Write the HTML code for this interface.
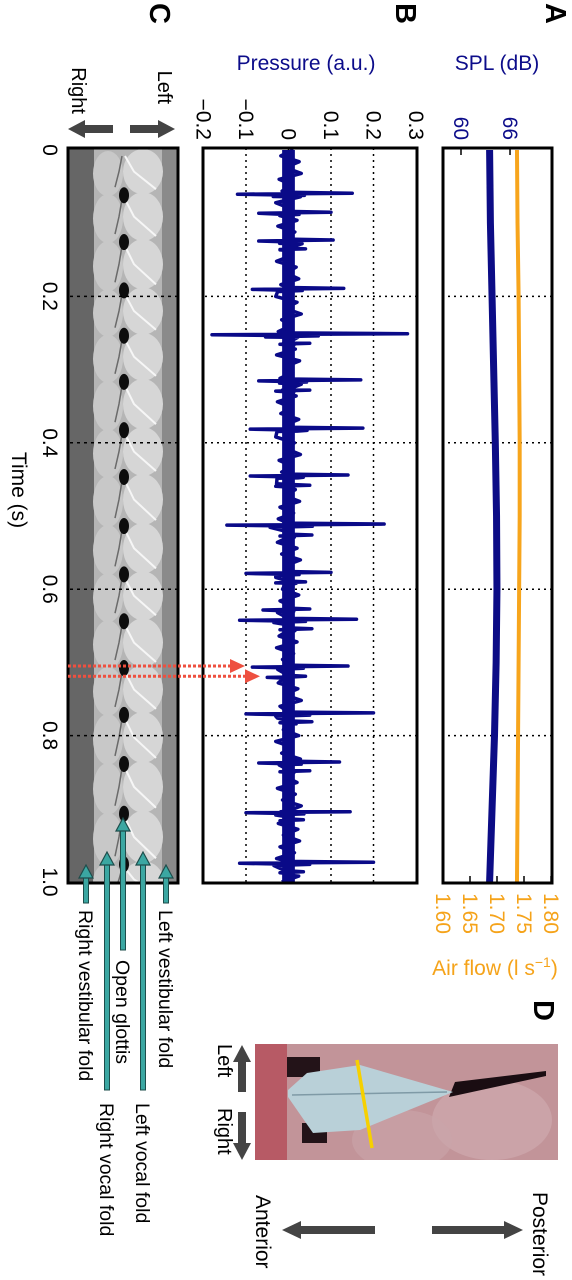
<!DOCTYPE html>
<html><head><meta charset="utf-8">
<style>
html,body{margin:0;padding:0;background:#fff;}
body{width:572px;height:1280px;overflow:hidden;position:relative;}
#rot{position:absolute;left:0;top:0;width:1280px;height:572px;transform-origin:0 0;transform:translate(572px,0) rotate(90deg);}
svg text{font-family:"Liberation Sans",Arial,sans-serif;}
</style></head>
<body>
<div id="rot">
<svg id="fig" width="1280" height="572" viewBox="0 0 1280 572" xmlns="http://www.w3.org/2000/svg">
<defs>
<clipPath id="clipA"><rect x="148" y="20" width="735" height="109"/></clipPath>
<clipPath id="clipB"><rect x="148" y="155" width="735" height="214"/></clipPath>
<clipPath id="clipC"><rect x="148" y="394" width="735" height="110"/></clipPath>
<clipPath id="clipD"><rect x="1044" y="14" width="116" height="303"/></clipPath>
</defs>

<text x="3" y="26" font-size="29" font-weight="bold">A</text>
<text x="3" y="176" font-size="29" font-weight="bold">B</text>
<text x="3" y="422" font-size="29" font-weight="bold">C</text>
<text x="1000" y="38" font-size="29" font-weight="bold">D</text>

<text transform="translate(70,75) rotate(-90)" text-anchor="middle" font-size="21" fill="#0c0c8a">SPL (dB)</text>
<text transform="translate(70,266) rotate(-90)" text-anchor="middle" font-size="21" fill="#0c0c8a">Pressure (a.u.)</text>
<text transform="translate(975,77) rotate(-90)" text-anchor="middle" font-size="21" fill="#f5a31a">Air flow (l s<tspan baseline-shift="super" font-size="14">−1</tspan>)</text>
<text x="490" y="560" text-anchor="middle" font-size="21">Time (s)</text>

<g id="gA"></g>
<g id="gB"></g>
<g id="gC"></g>

<g fill="#444">
<rect x="125" y="413" width="8" height="29"/>
<polygon points="129,397 120,414 138,414"/>
<rect x="125" y="459" width="8" height="29"/>
<polygon points="129,504 120,487 138,487"/>
</g>
<text x="104" y="414" text-anchor="end" font-size="20">Left</text>
<text x="114" y="500" text-anchor="end" font-size="20">Right</text>

<g id="teal"></g>

<g clip-path="url(#clipD)">
<rect x="1044" y="14" width="116" height="303" fill="#c29499"/>
<ellipse cx="1120" cy="80" rx="40" ry="60" fill="#d0aeb2" opacity="0.6"/>
<ellipse cx="1140" cy="170" rx="30" ry="50" fill="#caa5aa" opacity="0.6"/>
<rect x="1044" y="285" width="116" height="32" fill="#b03a4a" opacity="0.65"/>
<polygon points="1071,26 1082,117 1097,123 1076,26" fill="#1a0d12"/>
<polygon points="1057,252 1077,252 1077,285 1057,285" fill="#231318"/>
<polygon points="1123,245 1143,245 1143,270 1123,270" fill="#231318"/>
<polygon points="1090,284 1073,265 1065,212 1092,119 1130,212 1133,259 1097,284" fill="#b9d0d8"/>
<line x1="1092" y1="125" x2="1095" y2="280" stroke="#7f9aa6" stroke-width="1.5"/>
<line x1="1060" y1="215" x2="1148" y2="200" stroke="#f6d000" stroke-width="3.5"/>
</g>
<g fill="#444">
<rect x="1058" y="326" width="34" height="8"/>
<polygon points="1045,330 1062,321 1062,339"/>
<rect x="1112" y="326" width="34" height="8"/>
<polygon points="1160,330 1143,321 1143,339"/>
<rect x="1226" y="63" width="8" height="77"/>
<polygon points="1230,49 1221,68 1239,68"/>
<rect x="1226" y="197" width="8" height="77"/>
<polygon points="1230,290 1221,271 1239,271"/>
</g>
<text x="1044" y="354" font-size="20">Left</text>
<text x="1108" y="354" font-size="20">Right</text>
<text x="1192" y="39" font-size="21">Posterior</text>
<text x="1195" y="316" font-size="21">Anterior</text>
</svg>
</div>

<script>
var ticksTime = [0, 0.2, 0.4, 0.6, 0.8, 1.0];
var tickLabelsTime = ["0", "0.2", "0.4", "0.6", "0.8", "1.0"];
var splT = [0, 0.1, 0.2, 0.3, 0.4, 0.5, 0.6, 0.7, 0.8, 0.9, 1.0];
var splV = [63.5, 63.6, 63.8, 64.0, 64.2, 64.35, 64.4, 64.3, 64.1, 63.8, 63.5];
var flowV = [1.737, 1.738, 1.740, 1.741, 1.742, 1.742, 1.741, 1.740, 1.739, 1.738, 1.737];
var splTicks = [60, 66];
var flowTicks = [1.60, 1.65, 1.70, 1.75, 1.80];
var flowTickLabels = ["1.60", "1.65", "1.70", "1.75", "1.80"];
var pTicks = [-0.2, -0.1, 0, 0.1, 0.2, 0.3];
var pTickLabels = ["−0.2", "−0.1", "0", "0.1", "0.2", "0.3"];
var spikeT = [0.059,0.085,0.123,0.135,0.189,0.251,0.264,0.314,0.328,0.380,0.444,0.458,0.511,0.526,0.577,0.590,0.627,0.641,0.654,0.705,0.719,0.769,0.781,0.836,0.848,0.904,0.915,0.973,0.986];
var spikeHi = [0.15,0.10,0.105,0.04,0.13,0.28,0.05,0.17,0.05,0.175,0.14,0.05,0.225,0.055,0.10,0.04,0.05,0.16,0.055,0.14,0.04,0.20,0.055,0.12,0.05,0.145,0.035,0.20,0.035];
var spikeLo = [-0.12,-0.07,-0.07,-0.02,-0.085,-0.18,-0.02,-0.07,-0.03,-0.09,-0.09,-0.03,-0.145,-0.02,-0.10,-0.03,-0.06,-0.115,-0.02,-0.085,-0.05,-0.10,-0.02,-0.07,-0.02,-0.10,-0.02,-0.115,-0.02];
var noiseV = [0.012,-0.018,0.025,-0.008,0.03,-0.022,0.01,-0.015,0.028,-0.03,0.005,-0.012,0.02,-0.025,0.015,-0.01,0.032,-0.02,0.008,-0.028,
0.018,-0.006,0.024,-0.018,0.012,-0.03,0.02,-0.01,0.03,-0.016,0.006,-0.024,0.022,-0.012,0.016,-0.028,0.026,-0.008,0.01,-0.02,
0.03,-0.014,0.018,-0.026,0.008,-0.018,0.024,-0.01,0.02,-0.03,0.014,-0.006,0.028,-0.022,0.01,-0.016,0.022,-0.028,0.016,-0.01,
0.026,-0.02,0.012,-0.024,0.03,-0.012,0.008,-0.026,0.02,-0.016,0.028,-0.008,0.014,-0.03,0.018,-0.014,0.024,-0.02,0.01,-0.026,
0.032,-0.01,0.016,-0.022,0.02,-0.028,0.012,-0.014,0.026,-0.018,0.008,-0.024,0.022,-0.01,0.03,-0.02,0.014,-0.026,0.018,-0.012,
0.024,-0.03,0.01,-0.016,0.028,-0.022,0.012,-0.008,0.02,-0.026,0.016,-0.014,0.03,-0.018,0.008,-0.024,0.022,-0.012,0.026,-0.02,
0.014,-0.028,0.018,-0.01,0.024,-0.016];
var closureT = [0.059,0.123,0.189,0.251,0.314,0.380,0.444,0.511,0.577,0.641,0.705,0.769,0.836,0.904,0.973];
var markT = [0.705, 0.719];
var foldLabels = ["Left vestibular fold","Left vocal fold","Open glottis","Right vocal fold","Right vestibular fold"];

var NS = "http://www.w3.org/2000/svg";
function xT(t){ return 150 + t * 732; }
function yS(d){ return 111 - (d - 60) * 8.17; }
function yF(f){ return 129 - (f - 1.6) * 540; }
function yP(v){ return 283.5 - v * 425; }
function mk(tag, attrs, parent){
  var e = document.createElementNS(NS, tag);
  for (var k in attrs) e.setAttribute(k, attrs[k]);
  parent.appendChild(e);
  return e;
}
var gA = document.getElementById('gA'), gB = document.getElementById('gB'), gC = document.getElementById('gC');
var fig = document.getElementById('fig');

// Panel A
ticksTime.slice(1,5).forEach(function(t){
  var l = mk('line',{x1:xT(t),x2:xT(t),y1:20,y2:129,stroke:'#000','stroke-width':1.5,'stroke-dasharray':'2,4'},gA);
  
  
});
var gAc = mk('g',{'clip-path':'url(#clipA)'},gA);
var fl = mk('polyline',{points:splT.map(function(t,i){return xT(t)+','+yF(flowV[i]);}).join(' '),fill:'none',stroke:'#f7a51c','stroke-width':4},gAc);


var sl = mk('polyline',{points:splT.map(function(t,i){return xT(t)+','+yS(splV[i]);}).join(' '),fill:'none',stroke:'#0c0c86','stroke-width':7},gAc);


splTicks.forEach(function(d){
  mk('line',{x1:148,x2:155,y1:yS(d),y2:yS(d),stroke:'#000','stroke-width':1.5},gA);
  var tx = mk('text',{x:140,y:yS(d)+7,'text-anchor':'end','font-size':21,fill:'#0c0c8a'},gA);
  tx.textContent = d;
  
  
});
flowTicks.forEach(function(f,i){
  mk('line',{x1:876,x2:883,y1:yF(f),y2:yF(f),stroke:'#000','stroke-width':1.5},gA);
  var tx = mk('text',{x:893,y:yF(f)+7,'font-size':21,fill:'#f5a31a'},gA);
  tx.textContent = flowTickLabels[i];
  
  
});
var bA = mk('rect',{x:148,y:20,width:735,height:109,fill:'none',stroke:'#000','stroke-width':3},gA);



// Panel B
ticksTime.slice(1,5).forEach(function(t){
  var l = mk('line',{x1:xT(t),x2:xT(t),y1:155,y2:369,stroke:'#000','stroke-width':1.5,'stroke-dasharray':'2,4'},gB);
  
  
});
pTicks.forEach(function(v,i){
  if (v > -0.2 && v < 0.3) {
    var l = mk('line',{x1:148,x2:883,y1:yP(v),y2:yP(v),stroke:'#000','stroke-width':1.5,'stroke-dasharray':'2,4'},gB);
    
    
  }
  var tx = mk('text',{x:140,y:yP(v)+7,'text-anchor':'end','font-size':21},gB);
  tx.textContent = pTickLabels[i];
  
  
});
var pts = [];
noiseV.forEach(function(v,i){ pts.push([i*0.008, v]); });
spikeT.forEach(function(t,i){
  pts.push([t-0.0012, 0]);
  pts.push([t, spikeHi[i]]);
  pts.push([t+0.0014, spikeLo[i]]);
  pts.push([t+0.003, spikeHi[i]*0.25]);
  pts.push([t+0.0045, spikeLo[i]*0.3]);
});
pts.sort(function(a,b){return a[0]-b[0];});
var gBc = mk('g',{'clip-path':'url(#clipB)'},gB);
var band = mk('rect',{x:150,y:yP(0.015),width:732,height:yP(-0.015)-yP(0.015),fill:'#0a0a88'},gBc);


var pl = mk('polyline',{points:pts.map(function(p){return xT(p[0])+','+yP(p[1]);}).join(' '),fill:'none',stroke:'#0a0a88','stroke-width':3.5,'stroke-linejoin':'round'},gBc);


var bB = mk('rect',{x:148,y:155,width:735,height:214,fill:'none',stroke:'#000','stroke-width':3},gB);



// Panel C
var gCc = mk('g',{'clip-path':'url(#clipC)'},gC);
mk('rect',{x:148,y:394,width:735,height:110,fill:'#8a8a8a'},gCc);
mk('rect',{x:148,y:478,width:735,height:26,fill:'#666'},gCc);
mk('rect',{x:148,y:410,width:735,height:68,fill:'#b5b5b5'},gCc);
var bounds = [0].concat(closureT).concat([1.02]);
for (var i = 0; i < bounds.length-1; i++){
  var a = xT(bounds[i]), b = xT(bounds[i+1]);
  var cx = (a+b)/2, rx = (b-a)/2 + 1;
  var e1 = mk('ellipse',{cx:cx,cy:429,rx:rx,ry:20,fill:'#d6d6d6'},gCc);
  
  
  var e2 = mk('ellipse',{cx:cx+2,cy:464,rx:rx,ry:15,fill:'#c8c8c8'},gCc);
  
  
  mk('path',{d:'M'+(a+6)+',447 L'+(cx)+',438 L'+(b-4)+',416',fill:'none',stroke:'#f6f6f6','stroke-width':2},gCc);
  mk('path',{d:'M'+(a+6)+',450 L'+(cx)+',453 L'+(b-6)+',457',fill:'none',stroke:'#6a6a6a','stroke-width':1.5},gCc);
}
closureT.forEach(function(t){
  var s = mk('ellipse',{cx:xT(t)+2,cy:448,rx:8,ry:5,fill:'#0d0d0d'},gCc);
  
  
});
ticksTime.slice(1,5).forEach(function(t){
  var l = mk('line',{x1:xT(t),x2:xT(t),y1:394,y2:504,stroke:'#000','stroke-width':1.5,'stroke-dasharray':'3,4'},gC);
  
  
});
var bC = mk('rect',{x:148,y:394,width:735,height:110,fill:'none',stroke:'#000','stroke-width':3},gC);


ticksTime.forEach(function(t,i){
  var tx = mk('text',{x:xT(t),y:529,'text-anchor':'middle','font-size':21},gC);
  tx.textContent = tickLabelsTime[i];
  
  
});

markT.forEach(function(t,i){
  var tip = i === 0 ? 327 : 312;
  var ln = mk('line',{x1:xT(t),x2:xT(t),y1:504,y2:tip+12,stroke:'#ee5040','stroke-width':3,'stroke-dasharray':'3,2'},fig);
  
  
  var hd = mk('polygon',{points:xT(t)+','+tip+' '+(xT(t)-7)+','+(tip+15)+' '+(xT(t)+7)+','+(tip+15),fill:'#ee5040'},fig);
  
  
});

var teal = document.getElementById('teal');
var foldY = [406, 429, 449, 465, 486];
var foldTip = [865, 852, 818, 852, 865];
var foldTail = [903, 1090, 950, 1090, 903];
var foldTextX = [910, 1103, 960, 1103, 910];
foldY.forEach(function(y,i){
  var sh = mk('rect',{x:foldTip[i]+10,y:y-2.5,width:foldTail[i]-foldTip[i]-10,height:5,fill:'#3ba7a2',stroke:'#1d4d4b','stroke-width':1},teal);
  
  
  var hd = mk('polygon',{points:foldTip[i]+','+y+' '+(foldTip[i]+13)+','+(y-7)+' '+(foldTip[i]+13)+','+(y+7),fill:'#3ba7a2',stroke:'#1d4d4b','stroke-width':1.2},teal);
  
  
  var tx = mk('text',{x:foldTextX[i],y:y+7,'font-size':19.5},teal);
  tx.textContent = foldLabels[i];
  
  
});
</script>
</body></html>
